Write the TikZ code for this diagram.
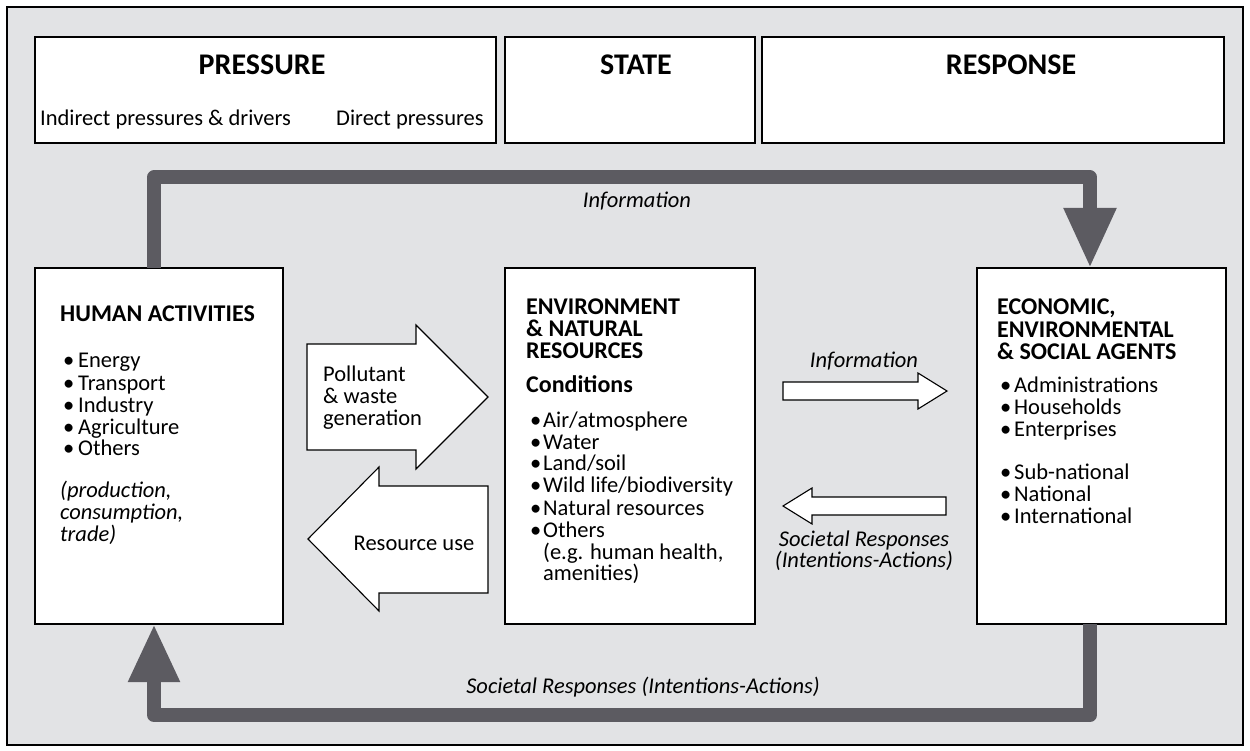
\documentclass[tikz,border=0pt]{standalone}
\usepackage{fontspec}
\setmainfont{Carlito}
\usetikzlibrary{arrows.meta}
\definecolor{bg}{HTML}{E2E3E5}
\definecolor{barc}{HTML}{5C5B61}
\newcommand\bul[2]{\makebox[#1][l]{\hspace*{#2}\textbullet}}
\newcommand\hd[1]{{\fontsize{24}{22}\selectfont\bfseries #1}}
\tikzset{
  frame/.style={draw=black,line width=2pt,fill=bg},
  box/.style={draw=black,line width=1.3pt,fill=white,outer sep=0pt,inner sep=0pt,anchor=north west},
  bar/.style={draw=barc,line width=14pt,line join=round},
  blk/.style={draw=black,line width=1.1pt,fill=white,line join=miter},
  title/.style={font=\fontsize{30}{30}\selectfont\bfseries,anchor=base,inner sep=0pt},
  txt/.style={inner sep=0pt,anchor=base west,align=flush left},
  lbl/.style={inner sep=0pt,anchor=base,font=\fontsize{22.5}{22}\selectfont\itshape},
}
\begin{document}
\begin{tikzpicture}[x=1pt,y=-1pt,font=\fontsize{22.5}{22}\selectfont]
\useasboundingbox (0,0) rectangle (1250,751);
\path[frame] (7,7) rectangle (1243,745);

% top header boxes
\node[box,minimum width=461pt,minimum height=106pt] (pres) at (35,37) {};
\node[box,minimum width=250pt,minimum height=106pt] (state) at (505,37) {};
\node[box,minimum width=462pt,minimum height=106pt] (resp) at (762,37) {};
\node[title] (tpres) at (262,75) {PRESSURE};
\node[title] (tstate) at (636,75) {STATE};
\node[title] (tresp) at (1011,75) {RESPONSE};
\node[txt] (ind) at (40,126) {Indirect pressures \& drivers};
\node[txt] (dir) at (336,126) {Direct pressures};

% main boxes
\node[box,minimum width=248pt,minimum height=356pt] (human) at (35,268) {};
\node[box,minimum width=250pt,minimum height=356pt] (env) at (505,268) {};
\node[box,minimum width=249pt,minimum height=356pt] (econ) at (977,268) {};

% thick feedback bars
\draw[bar,-{Triangle[length=60pt,width=49pt]}]
  ([xshift=-5pt]human.north) |- ([xshift=-11.5pt,yshift=90.5pt]econ.north) -- ([xshift=-11.5pt]econ.north);
\draw[bar,-{Triangle[length=58pt,width=48pt]}]
  ([xshift=-11.5pt]econ.south) |- ([xshift=-5pt,yshift=-91pt]human.south) -- ([xshift=-5pt]human.south);
\node[lbl] (infotop) at (637,208) {Information};
\node[lbl] (socbot) at (643,693) {Societal Responses (Intentions-Actions)};

% block arrows
\draw[blk] (307,344) -- (416,344) -- (416,325) -- (488,397) -- (416,469) -- (416,450) -- (307,450) -- cycle;
\draw[blk] (488,486) -- (379,486) -- (379,467) -- (308,539) -- (379,611) -- (379,593) -- (488,593) -- cycle;
\draw[blk] (783,382) -- (918,382) -- (918,373) -- (947,391) -- (918,409) -- (918,400) -- (783,400) -- cycle;
\draw[blk] (946,497) -- (812,497) -- (812,488) -- (783,506) -- (812,524) -- (812,515) -- (946,515) -- cycle;
\node[txt,text width=110pt] (poll) at (323,381) {Pollutant\\\& waste\\generation};
\node[inner sep=0pt,anchor=base] (resuse) at (414,550) {Resource use};
\node[lbl] (infomid) at (864,367) {Information};
\node[lbl,text width=210pt,align=flush center,font=\fontsize{22.5}{20}\selectfont\itshape] (socmid) at (864,546) {Societal Responses\\(Intentions-Actions)};

% box texts
\node[txt,text width=220pt] (htext) at (60,322) {\hd{HUMAN ACTIVITIES}\\[24pt]
\bul{18pt}{3pt}Energy\\
\bul{18pt}{3pt}Transport\\
\bul{18pt}{3pt}Industry\\
\bul{18pt}{3pt}Agriculture\\
\bul{18pt}{3pt}Others\\[20pt]
\textit{(production,}\\
\textit{consumption,}\\
\textit{trade)}};

\node[txt,text width=226pt] (etext) at (526,314) {\hd{ENVIRONMENT}\\
\hd{\& NATURAL}\\
\hd{RESOURCES}\\[12pt]
\hd{Conditions}\\[13pt]
\bul{17pt}{4pt}Air/atmosphere\\
\bul{17pt}{4pt}Water\\
\bul{17pt}{4pt}Land/soil\\
\bul{17pt}{4pt}Wild life/biodiversity\\
\bul{17pt}{4pt}Natural resources\\
\bul{17pt}{4pt}Others\\
\hspace*{17pt}(e.g. human health,\\
\hspace*{17pt}amenities)};

\node[txt,text width=226pt] (ctext) at (997,315) {\hd{ECONOMIC,}\\
\hd{ENVIRONMENTAL}\\
\hd{\& SOCIAL AGENTS}};
\node[txt,text width=220pt] (ctext2) at (997,392) {\bul{17pt}{3pt}Administrations\\
\bul{17pt}{3pt}Households\\
\bul{17pt}{3pt}Enterprises\\[21pt]
\bul{17pt}{3pt}Sub-national\\
\bul{17pt}{3pt}National\\
\bul{17pt}{3pt}International};
\end{tikzpicture}
\end{document}
